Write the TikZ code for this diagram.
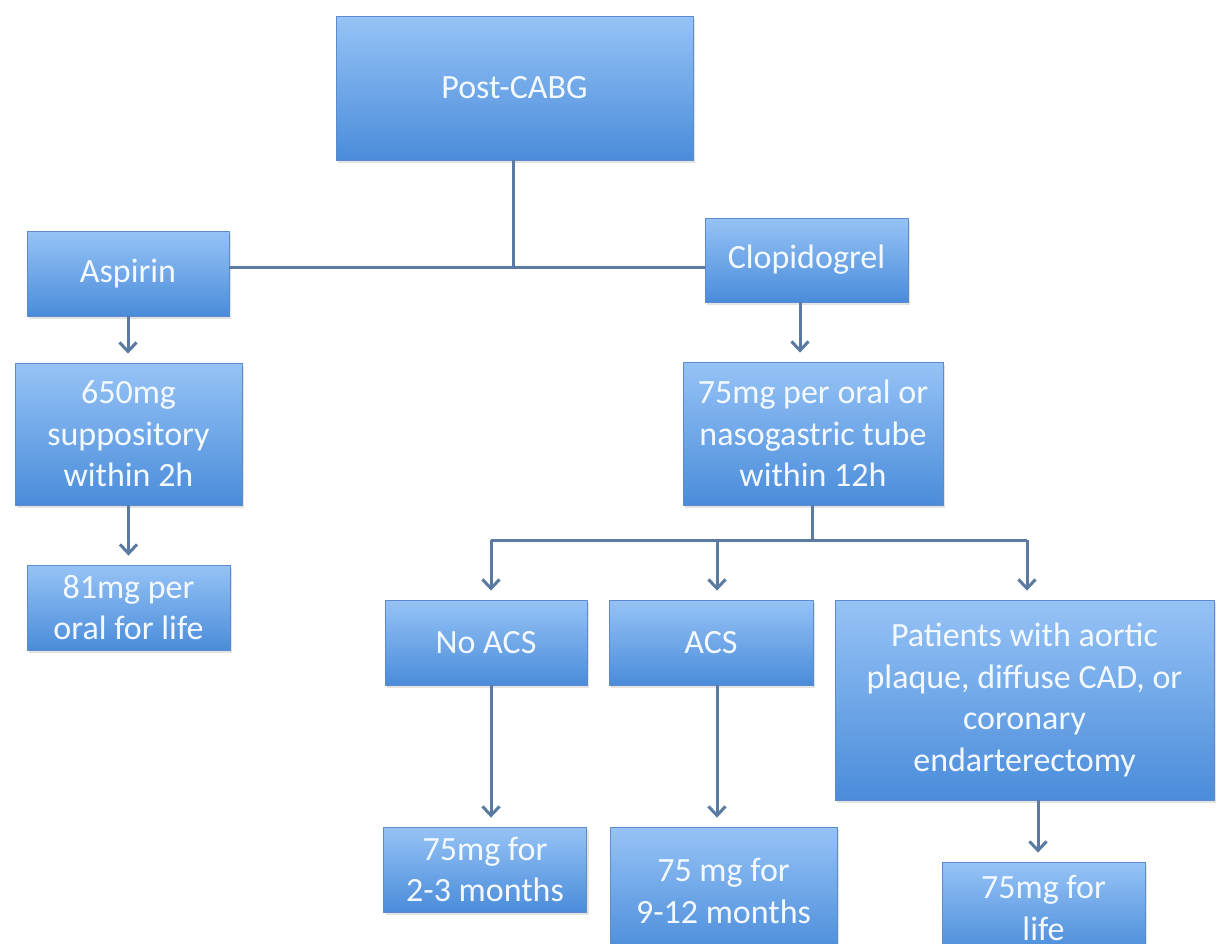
\documentclass[tikz,border=0pt]{standalone}
\usepackage{fontspec}
\setmainfont{Carlito}
\usetikzlibrary{arrows.meta,shadows}
\definecolor{boxtop}{RGB}{150,195,246}
\definecolor{boxbot}{RGB}{74,140,218}
\definecolor{boxline}{RGB}{92,140,204}
\definecolor{conn}{RGB}{90,122,162}
\definecolor{txt}{RGB}{244,249,255}
\tikzset{
  box/.style={draw=boxline, line width=0.8pt, top color=boxtop, bottom color=boxbot,
    text=txt, align=center, inner sep=0pt, font=\fontsize{34}{41.5}\selectfont,
    drop shadow={opacity=0.22, shadow xshift=2pt, shadow yshift=-3pt}},
  link/.style={draw=conn, line width=3pt},
  arr/.style={link, -{Straight Barb[length=9pt,width=17pt]}, shorten >=9pt}
}
\begin{document}
\begin{tikzpicture}[x=1pt,y=-1pt]
\useasboundingbox (0,0) rectangle (1217,943);
\fill[white] (0,0) rectangle (1217,943);
\clip (0,0) rectangle (1217,943);
% nodes
\node[box, minimum width=357pt, minimum height=144pt] (post) at (514.5,88) {Post-CABG};
\node[box, minimum width=202pt, minimum height=85pt] (asp) at (128,273.5) {Aspirin};
\node[box, minimum width=203pt, minimum height=84pt] (clop) at (806.5,260) {Clopidogrel};
\node[box, minimum width=227pt, minimum height=142pt] (sup) at (128.5,434) {650mg\\suppository\\within 2h};
\node[box, minimum width=203pt, minimum height=85pt] (m81) at (128.5,607.5) {81mg per\\oral for life};
\node[box, minimum width=260pt, minimum height=143pt] (oral) at (813,433.5) {75mg per oral or\\nasogastric tube\\within 12h};
\node[box, minimum width=202pt, minimum height=85pt] (noacs) at (486,642.5) {No ACS};
\node[box, minimum width=204pt, minimum height=85pt] (acs) at (711,642.5) {ACS};
\node[box, minimum width=379pt, minimum height=200pt] (pat) at (1024.5,700) {Patients with aortic\\plaque, diffuse CAD, or\\coronary\\endarterectomy};
\node[box, minimum width=203pt, minimum height=85pt] (m23) at (485,869.5) {75mg for\\2-3 months};
\node[box, minimum width=227pt, minimum height=128pt] (m912) at (723.5,891) {75 mg for\\9-12 months};
\node[box, minimum width=203pt, minimum height=92pt] (life) at (1043.5,908) {75mg for\\life};
% junction coordinates
\coordinate (j1) at (513,267);
\coordinate (j2) at (812,540);
\coordinate (b1) at (491,540);
\coordinate (b2) at (717,540);
\coordinate (b3) at (1027,540);
\coordinate (c4) at (1038,0);
\coordinate (c5) at (800,0);
% top connectors
\draw[link] (post.south -| j1) -- (j1);
\draw[link] (asp.east |- j1) -- (clop.west |- j1);
\draw[arr] (asp.south) -- (sup.north -| asp.south);
\draw[arr] (sup.south) -- (m81.north -| sup.south);
\draw[arr] (clop.south -| c5) -- (oral.north -| c5);
% branch
\draw[link] (oral.south -| j2) -- (j2);
\draw[link] (b1) -- (b3);
\draw[arr] (b1) -- (noacs.north -| b1);
\draw[arr] (b2) -- (acs.north -| b2);
\draw[arr] (b3) -- (pat.north -| b3);
\draw[arr] (noacs.south -| b1) -- (m23.north -| b1);
\draw[arr] (acs.south -| b2) -- (m912.north -| b2);
\draw[arr] (pat.south -| c4) -- (life.north -| c4);
\end{tikzpicture}
\end{document}
